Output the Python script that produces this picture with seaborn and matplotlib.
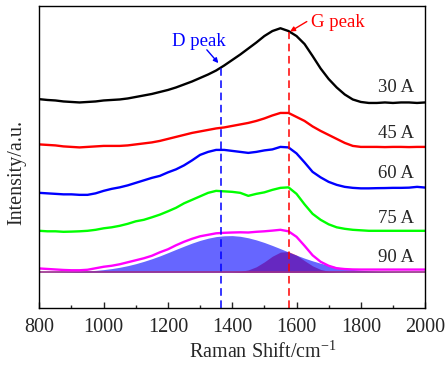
import numpy as np
import pandas as pd
import matplotlib
matplotlib.use("Agg")
import matplotlib.pyplot as plt
import seaborn as sns

# ---------------- data ----------------
shift = list(range(800, 2001, 25))

i30 = [173.3, 172.5, 172.0, 171.0, 170.5, 170.0, 170.5, 171.0, 172.0, 172.5,
       173.0, 174.0, 175.5, 177.0, 178.5, 180.5, 182.5, 185.0, 188.0, 191.0,
       194.5, 198.0, 202.0, 207.0, 212.5, 218.0, 224.0, 230.0, 236.5, 241.5,
       244.3, 241.5, 236.5, 228.5, 216.5, 204.0, 193.5, 185.0, 178.0, 173.0,
       170.5, 169.5, 169.5, 170.0, 169.5, 170.0, 170.0, 169.5, 170.0]
i45 = [128.0, 127.5, 127.0, 126.0, 125.5, 125.0, 125.5, 126.0, 126.5, 126.5,
       126.5, 127.0, 128.0, 129.0, 130.0, 131.5, 133.5, 135.5, 137.5, 139.5,
       141.0, 142.5, 144.0, 145.0, 146.5, 148.0, 149.5, 151.5, 154.0, 157.0,
       159.5, 159.5, 155.5, 151.5, 146.0, 141.5, 137.5, 133.5, 129.5, 126.5,
       125.5, 125.5, 125.5, 125.3, 125.5, 125.5, 125.3, 125.5, 125.5]
i60 = [79.5, 79.0, 78.5, 78.0, 78.0, 77.5, 77.5, 79.0, 81.5, 83.5,
       85.0, 87.0, 89.5, 92.0, 94.5, 96.5, 100.0, 103.0, 107.0, 112.0,
       117.5, 120.5, 122.5, 122.5, 121.5, 120.5, 119.5, 120.5, 122.0, 123.0,
       125.5, 125.0, 119.0, 110.0, 100.5, 95.0, 90.5, 87.5, 85.5, 84.5,
       84.0, 84.0, 84.2, 84.3, 84.5, 84.5, 84.7, 85.5, 84.8]
i75 = [41.5, 41.0, 41.0, 40.5, 40.7, 41.0, 41.5, 42.5, 44.0, 45.0,
       46.5, 48.5, 51.0, 52.5, 55.0, 57.7, 61.0, 64.5, 69.0, 72.5,
       76.0, 79.5, 81.5, 81.0, 80.5, 79.5, 76.5, 78.5, 80.0, 82.5,
       84.5, 85.0, 78.5, 68.0, 58.5, 52.5, 48.0, 45.0, 43.5, 42.5,
       42.0, 41.5, 41.5, 41.5, 41.5, 41.5, 41.5, 41.5, 41.5]
i90 = [3.8, 3.3, 2.8, 2.3, 2.0, 2.0, 2.5, 4.0, 5.5, 6.5,
       8.0, 10.0, 12.0, 14.0, 16.5, 20.0, 23.0, 27.0, 30.5, 33.5,
       36.0, 37.5, 39.0, 39.5, 39.8, 40.0, 39.8, 40.5, 41.0, 41.7,
       42.5, 41.0, 35.5, 26.5, 17.0, 10.5, 6.5, 4.0, 3.2, 2.8,
       2.7, 2.7, 2.7, 2.7, 2.7, 2.7, 2.7, 2.7, 2.7]

# fitted bands of the 90 A spectrum
fit_d = [0.09, 0.15, 0.24, 0.38, 0.58, 0.88, 1.29, 1.86, 2.64, 3.66,
         4.97, 6.6, 8.57, 10.9, 13.5, 16.4, 19.6, 22.9, 26.1, 29.2,
         31.9, 34.1, 35.7, 36.5, 36.7, 36.0, 34.5, 32.4, 29.8, 26.8,
         23.6, 20.3, 17.1, 14.1, 11.4, 9.0, 7.0, 5.3, 3.9, 2.8,
         2.0, 1.4, 0.94, 0.63, 0.41, 0.26, 0.16, 0.1, 0.06]
fit_g = [0.0, 0.0, 0.0, 0.0, 0.0, 0.0, 0.0, 0.0, 0.0, 0.0,
         0.0, 0.0, 0.0, 0.0, 0.0, 0.0, 0.0, 0.0, 0.0, 0.0,
         0.0, 0.0, 0.0, 0.05, 0.23, 0.82, 2.36, 5.5, 10.4, 16.1,
         20.2, 20.7, 17.2, 11.6, 6.4, 2.8, 1.0, 0.3, 0.07, 0.0,
         0.0, 0.0, 0.0, 0.0, 0.0, 0.0, 0.0, 0.0, 0.0]

series_names = ["30 A", "45 A", "60 A", "75 A", "90 A"]
series_values = [i30, i45, i60, i75, i90]
series_colors = ["#000000", "#ff0000", "#0000ff", "#00ff00", "#ff00ff"]
label_y = [180.4, 134.4, 94.4, 49.4, 10.4]

d_peak = 1366
g_peak = 1578
xticks = [800, 1000, 1200, 1400, 1600, 1800, 2000]

# ---------------- style ----------------
sns.set_style("white")
plt.rcParams["font.family"] = ["Liberation Serif", "DejaVu Serif"]
plt.rcParams["mathtext.fontset"] = "custom"
plt.rcParams["mathtext.rm"] = "Liberation Serif"

fig = plt.figure(figsize=(4.47, 3.67), dpi=100)
ax = fig.add_axes([0.088, 0.161, 0.863, 0.823])

df = pd.DataFrame({
    "shift": shift * len(series_names),
    "intensity": sum(series_values, []),
    "sample": sum([[n] * len(shift) for n in series_names], []),
})

# fitted bands first
ax.fill_between(shift, 0, fit_g, color="#ff0000", alpha=0.6, lw=0)
ax.fill_between(shift, 0, fit_d, color="#0000ff", alpha=0.6, lw=0)
ax.plot([shift[0], shift[-1]], [0, 0], color="#9a2f8a", lw=1.2)

sns.lineplot(data=df, x="shift", y="intensity", hue="sample",
             palette=dict(zip(series_names, series_colors)),
             hue_order=series_names, legend=False, lw=1.7, ax=ax)

for name, yv in zip(series_names, label_y):
    ax.text(1854, yv, name, fontsize=13.5, ha="left", va="baseline")

ax.set_xlim(800, 2000)
ax.set_ylim(-35.7, 266.7)

ax.plot([d_peak, d_peak], [-35.7, 207.7], color="#0000ff", lw=1.1,
        dashes=(5, 3))
ax.plot([g_peak, g_peak], [-35.7, 241.0], color="#ff0000", lw=1.1,
        dashes=(5, 3))

ax.text(1214, 226.7, "D peak", color="#0000ff", fontsize=13.5,
        ha="left", va="baseline")
ax.annotate("", xy=(1357, 209.4), xytext=(1321, 222.7),
            arrowprops=dict(arrowstyle="-|>", color="#0000ff", lw=1.0,
                            mutation_scale=7, shrinkA=0, shrinkB=0))
ax.text(1644, 246, "G peak", color="#ff0000", fontsize=13.5,
        ha="left", va="baseline")
ax.annotate("", xy=(1580, 241), xytext=(1632, 251),
            arrowprops=dict(arrowstyle="-|>", color="#ff0000", lw=1.0,
                            mutation_scale=7, shrinkA=0, shrinkB=0))

ax.set_xticks(xticks)
ax.set_xticks(range(900, 2000, 200), minor=True)
ax.set_yticks([])
ax.tick_params(axis="x", which="major", direction="in", length=4, width=1,
               labelsize=14.5, pad=7, bottom=True, top=False)
ax.tick_params(axis="x", which="minor", direction="in", length=2.5, width=1,
               bottom=True, top=False)
for s in ax.spines.values():
    s.set_linewidth(1.0)
    s.set_color("#000000")

ax.set_xlabel(r"Raman Shift/cm$^{\mathregular{-1}}$", fontsize=14.5)
ax.set_ylabel("Intensity/a.u.", fontsize=14.5)
ax.xaxis.set_label_coords(0.579, -0.11)
ax.yaxis.set_label_coords(-0.035, 0.447)

fig.savefig("out.png", dpi=100)
